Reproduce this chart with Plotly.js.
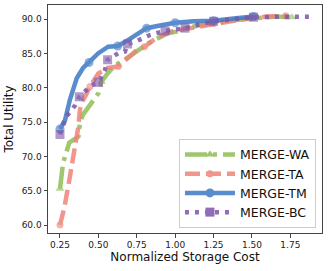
<!DOCTYPE html>
<html>
<head>
<meta charset="utf-8">
<script src="https://cdn.plot.ly/plotly-3.0.1.min.js"></script>
<style>html,body{margin:0;padding:0;background:#fff;}#chart{width:329px;height:271px;}</style>
</head>
<body>
<div id="chart"></div>
<script>
// ---- data ----
const seriesNames = ["MERGE-WA", "MERGE-TA", "MERGE-TM", "MERGE-BC"];

const waX = [0.25, 0.27, 0.29, 0.31, 0.37, 0.38, 0.40, 0.44, 0.47, 0.50, 0.515, 0.52, 0.56, 0.61, 0.65, 0.70, 0.75, 0.78, 0.825, 0.90, 0.955, 1.01, 1.05, 1.15, 1.25, 1.40, 1.55, 1.65, 1.76];
const waY = [65.3, 69.0, 70.5, 72.0, 72.9, 74.9, 76.1, 77.3, 78.3, 79.2, 80.4, 80.9, 82.1, 83.3, 83.8, 84.5, 85.3, 85.8, 86.5, 87.3, 88.0, 88.2, 88.6, 89.1, 89.5, 89.9, 90.2, 90.4, 90.3];
const waMarked = [0, 11, 20, 28];

const taX = [0.25, 0.28, 0.315, 0.35, 0.37, 0.38, 0.39, 0.42, 0.445, 0.50, 0.56, 0.63, 0.68, 0.75, 0.80, 0.88, 0.97, 1.05, 1.15, 1.25, 1.34, 1.49, 1.60, 1.72];
const taY = [60.0, 62.7, 67.1, 71.5, 74.4, 76.8, 77.8, 79.0, 80.2, 82.1, 82.9, 83.1, 84.1, 85.5, 86.0, 87.3, 88.2, 88.5, 89.0, 89.4, 89.7, 90.2, 90.4, 90.5];
const taMarked = [0, 8, 11, 14, 19, 23];

const tmX = [0.25, 0.283, 0.315, 0.359, 0.40, 0.439, 0.50, 0.564, 0.626, 0.695, 0.76, 0.814, 0.90, 1.00, 1.12, 1.25, 1.38, 1.51];
const tmY = [74.0, 75.3, 78.3, 81.4, 82.9, 83.7, 85.05, 86.0, 86.1, 87.0, 88.0, 88.7, 89.1, 89.5, 89.7, 89.8, 90.1, 90.4];
const tmMarked = [0, 5, 8, 11, 13, 15, 17];

const bcX = [0.25, 0.27, 0.29, 0.32, 0.35, 0.376, 0.424, 0.456, 0.50, 0.543, 0.56, 0.63, 0.673, 0.69, 0.738, 0.78, 0.836, 0.934, 1.00, 1.064, 1.15, 1.25, 1.38, 1.51, 1.65, 1.78, 1.88];
const bcY = [73.2, 74.6, 75.8, 76.6, 77.5, 78.7, 79.7, 80.4, 80.8, 82.6, 84.1, 85.05, 85.3, 86.4, 86.7, 87.2, 87.7, 88.3, 88.5, 88.7, 89.2, 89.7, 90.0, 90.3, 90.35, 90.35, 90.35];
const bcMarked = [0, 5, 8, 10, 13, 17, 19, 21, 23];

const xTickVals = [0.25, 0.50, 0.75, 1.00, 1.25, 1.50, 1.75];
const xTickText = ["0.25", "0.50", "0.75", "1.00", "1.25", "1.50", "1.75"];
const yTickVals = [60, 65, 70, 75, 80, 85, 90];
const yTickText = ["60.0", "65.0", "70.0", "75.0", "80.0", "85.0", "90.0"];

// ---- build ----
function sizes(n, marked, s) {
  const a = new Array(n).fill(0);
  marked.forEach(i => { a[i] = s; });
  return a;
}
const dataTraces = [];
const legendTraces = [];
function mk(name, x, y, marked, color, dash, symbol, msize) {
  dataTraces.push({
    type: "scatter", mode: "lines+markers", name: name, x: x, y: y,
    opacity: 0.85, showlegend: false, legendgroup: name,
    line: {color: color, width: 4.5, dash: dash},
    marker: {color: color, symbol: symbol, size: sizes(x.length, marked, msize), line: {width: 0}}
  });
  legendTraces.push({
    type: "scatter", mode: "lines+markers", name: name, x: [null], y: [null],
    opacity: 0.85, showlegend: true, legendgroup: name,
    line: {color: color, width: 4.5, dash: dash},
    marker: {color: color, symbol: symbol, size: msize, line: {width: 0}}
  });
}
mk(seriesNames[0], waX, waY, waMarked, "#8fbe55", "22px,6px,4px,6px", "triangle-up", 8);
mk(seriesNames[1], taX, taY, taMarked, "#ee8478", "15px,6px", "circle", 7);
mk(seriesNames[2], tmX, tmY, tmMarked, "#3d78c4", "solid", "circle", 9);
mk(seriesNames[3], bcX, bcY, bcMarked, "#7d55ab", "4px,6px", "square", 9);

const font = "DejaVu Sans, sans-serif";
const layout = {
  width: 329, height: 271,
  margin: {l: 48, r: 7, t: 5, b: 38},
  paper_bgcolor: "#fff", plot_bgcolor: "#fff",
  font: {family: font, size: 12, color: "#222"},
  showlegend: true,
  legend: {
    x: 0.978, y: 0.023, xanchor: "right", yanchor: "bottom",
    bgcolor: "rgba(255,255,255,0.8)", bordercolor: "#ccc", borderwidth: 1,
    font: {family: font, size: 12.5, color: "#111"},
    itemwidth: 50, traceorder: "normal"
  },
  xaxis: {
    range: [0.172, 1.956], tickvals: xTickVals, ticktext: xTickText,
    showgrid: false, zeroline: false,
    showline: true, mirror: true, linecolor: "#444", linewidth: 1,
    ticks: "outside", ticklen: 3.5, tickwidth: 1, tickcolor: "#444",
    tickfont: {family: font, size: 9, color: "#222"},
    title: {text: "Normalized Storage Cost", font: {family: font, size: 12, color: "#111"}, standoff: 3},
    automargin: false
  },
  yaxis: {
    range: [58.84, 92.08], tickvals: yTickVals, ticktext: yTickText,
    showgrid: false, zeroline: false,
    showline: true, mirror: true, linecolor: "#444", linewidth: 1,
    ticks: "outside", ticklen: 3.5, tickwidth: 1, tickcolor: "#444",
    tickfont: {family: font, size: 9, color: "#222"},
    title: {text: "Total Utility", font: {family: font, size: 12, color: "#111"}, standoff: 5},
    automargin: false
  }
};
Plotly.newPlot("chart", dataTraces.concat(legendTraces), layout, {displayModeBar: false, staticPlot: true});
</script>
</body>
</html>
